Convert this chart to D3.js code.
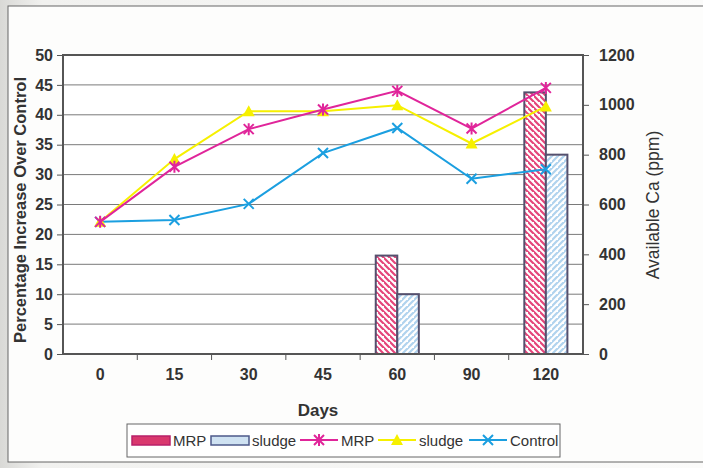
<!DOCTYPE html>
<html><head><meta charset="utf-8">
<script src="https://cdn.jsdelivr.net/npm/d3@7"></script>
<style>
html,body{margin:0;padding:0;background:#f3f3f1;}
svg{display:block;font-family:"Liberation Sans",Arial,sans-serif;}
</style></head>
<body>
<svg id="chart" width="703" height="468"></svg>
<script>
const days = ["0","15","30","45","60","90","120"];
const barMRP = [0,0,0,0,395,0,1050];
const barSludge = [0,0,0,0,240,0,800];
const lineMRP = [22.1,31.3,37.6,40.9,44.0,37.7,44.5];
const lineSludge = [22.1,32.6,40.6,40.6,41.6,35.2,41.4];
const lineControl = [22.1,22.4,25.1,33.6,37.8,29.3,30.9];
const leftTicks = [0,5,10,15,20,25,30,35,40,45,50];
const rightTicks = [0,200,400,600,800,1000,1200];

const svg = d3.select("#chart");
const M = {l:63, r:583, t:55, b:354};
const txt = "#333";

const defs = svg.append("defs");
const g1 = defs.append("linearGradient").attr("id","bg").attr("x1","0").attr("x2","1");
g1.append("stop").attr("offset","0").attr("stop-color","#d9d9d6");
g1.append("stop").attr("offset","0.06").attr("stop-color","#f1f1ef");
g1.append("stop").attr("offset","1").attr("stop-color","#fbfbfa");
svg.append("rect").attr("width",703).attr("height",468).attr("fill","url(#bg)");
svg.append("rect").attr("x",8).attr("y",6).attr("width",700).attr("height",456)
  .attr("fill","#fdfdfc").attr("stroke","#666").attr("stroke-width",1);

function hatch(id, color, dir){
  const p = defs.append("pattern").attr("id",id).attr("patternUnits","userSpaceOnUse")
    .attr("width",6).attr("height",6);
  p.append("rect").attr("width",6).attr("height",6).attr("fill","#fff");
  const d = dir>0 ? "M-1,-1 L7,7 M-4,2 L2,8 M4,-4 L10,2" : "M-1,7 L7,-1 M-4,4 L2,-2 M4,10 L10,4";
  p.append("path").attr("d",d).attr("stroke",color).attr("stroke-width",2.2);
}
hatch("hMRP","#e5457a",1);
hatch("hSl","#b0d3ee",-1);

const x = d3.scaleBand().domain(days).range([M.l,M.r]).paddingInner(0).paddingOuter(0);
const yL = d3.scaleLinear().domain([0,50]).range([M.b,M.t]);
const yR = d3.scaleLinear().domain([0,1200]).range([M.b,M.t]);

svg.append("rect").attr("x",M.l).attr("y",M.t).attr("width",M.r-M.l).attr("height",M.b-M.t).attr("fill","#fff");

svg.append("g").selectAll("line").data(leftTicks.slice(1)).join("line")
  .attr("x1",M.l).attr("x2",M.r).attr("y1",d=>yL(d)).attr("y2",d=>yL(d))
  .attr("stroke","#7a7a7a").attr("stroke-width",1);

const bw = x.bandwidth()*0.29;
const bars = svg.append("g");
days.forEach((d,i)=>{
  const cx = x(d)+x.bandwidth()/2;
  if(barMRP[i]>0) bars.append("rect").attr("x",cx-bw).attr("y",yR(barMRP[i])).attr("width",bw).attr("height",yR(0)-yR(barMRP[i]))
    .attr("fill","url(#hMRP)").attr("stroke","#55506e").attr("stroke-width",2);
  if(barSludge[i]>0) bars.append("rect").attr("x",cx).attr("y",yR(barSludge[i])).attr("width",bw).attr("height",yR(0)-yR(barSludge[i]))
    .attr("fill","url(#hSl)").attr("stroke","#55506e").attr("stroke-width",2);
});

svg.append("rect").attr("x",M.l).attr("y",M.t).attr("width",M.r-M.l).attr("height",M.b-M.t)
  .attr("fill","none").attr("stroke","#555").attr("stroke-width",2);

const axL = svg.append("g").attr("transform",`translate(${M.l},0)`)
  .call(d3.axisLeft(yL).tickValues(leftTicks).tickSize(6).tickPadding(4));
const axR = svg.append("g").attr("transform",`translate(${M.r},0)`)
  .call(d3.axisRight(yR).tickValues(rightTicks).tickFormat(d3.format("d")).tickSize(6).tickPadding(10));
const axB = svg.append("g").attr("transform",`translate(0,${M.b})`)
  .call(d3.axisBottom(x).tickSize(0).tickPadding(15));
[axL,axR,axB].forEach(a=>{
  a.attr("font-size",null).attr("font-family",null);
  a.select(".domain").remove();
  a.selectAll("line").attr("stroke","#555");
  a.selectAll("text").attr("fill",txt).attr("font-size","16px").attr("font-weight","bold");
});
svg.append("g").selectAll("line").data(days.slice(1)).join("line")
  .attr("x1",d=>x(d)).attr("x2",d=>x(d)).attr("y1",M.b).attr("y2",M.b+6).attr("stroke","#555");

const series = [
  {vals:lineMRP, color:"#e0259a", marker:"star"},
  {vals:lineSludge, color:"#f6f000", marker:"tri"},
  {vals:lineControl, color:"#1b9fe0", marker:"x"}
];
const cxOf = d=>x(d)+x.bandwidth()/2;
function drawMarker(g, type, px, py, color){
  if(type==="x"){
    g.append("path").attr("d",`M${px-5},${py-5}L${px+5},${py+5}M${px-5},${py+5}L${px+5},${py-5}`)
      .attr("stroke",color).attr("stroke-width",2);
  } else if(type==="star"){
    g.append("path").attr("d",`M${px-5},${py-5}L${px+5},${py+5}M${px-5},${py+5}L${px+5},${py-5}M${px},${py-6}L${px},${py+6}`)
      .attr("stroke",color).attr("stroke-width",2);
  } else {
    g.append("path").attr("d",`M${px},${py-6}L${px+6},${py+5}L${px-6},${py+5}Z`).attr("fill",color);
  }
}
[series[2],series[1],series[0]].forEach(s=>{
  const g = svg.append("g");
  g.append("path").datum(s.vals).attr("fill","none").attr("stroke",s.color).attr("stroke-width",2)
    .attr("d",d3.line().x((v,i)=>cxOf(days[i])).y(v=>yL(v)));
  s.vals.forEach((v,i)=>drawMarker(g,s.marker,cxOf(days[i]),yL(v),s.color));
});

svg.append("text").attr("x",318).attr("y",416).attr("text-anchor","middle")
  .attr("fill",txt).attr("font-size","17px").attr("font-weight","bold").text("Days");
svg.append("text").attr("transform","translate(26,210) rotate(-90)").attr("text-anchor","middle")
  .attr("fill",txt).attr("font-size","16.5px").attr("font-weight","bold").text("Percentage Increase Over Control");
svg.append("text").attr("transform","translate(659,205) rotate(-90)").attr("text-anchor","middle")
  .attr("fill",txt).attr("font-size","17.5px").text("Available Ca (ppm)");

const lg = svg.append("g");
lg.append("rect").attr("x",127).attr("y",424).attr("width",433).attr("height",33)
  .attr("fill","#fff").attr("stroke","#666").attr("stroke-width",1);
const ly = 440;
const legendItems = [
  {type:"bar", fill:"#d9386e", stroke:"#b8206a", x:132, label:"MRP"},
  {type:"bar", fill:"#cfe2f2", stroke:"#4d5a8a", x:211, label:"sludge"},
  {type:"line", color:"#e0259a", marker:"star", x:300, label:"MRP"},
  {type:"line", color:"#f6f000", marker:"tri", x:378, label:"sludge"},
  {type:"line", color:"#1b9fe0", marker:"x", x:469, label:"Control"}
];
legendItems.forEach(it=>{
  if(it.type==="bar"){
    lg.append("rect").attr("x",it.x).attr("y",ly-4).attr("width",38).attr("height",9)
      .attr("fill",it.fill).attr("stroke",it.stroke).attr("stroke-width",1.5);
  } else {
    lg.append("line").attr("x1",it.x).attr("x2",it.x+38).attr("y1",ly).attr("y2",ly)
      .attr("stroke",it.color).attr("stroke-width",2);
    drawMarker(lg,it.marker,it.x+19,ly,it.color);
  }
  lg.append("text").attr("x",it.x+41).attr("y",ly+6).attr("fill",txt)
    .attr("font-size","15px").text(it.label);
});
</script>
</body></html>
